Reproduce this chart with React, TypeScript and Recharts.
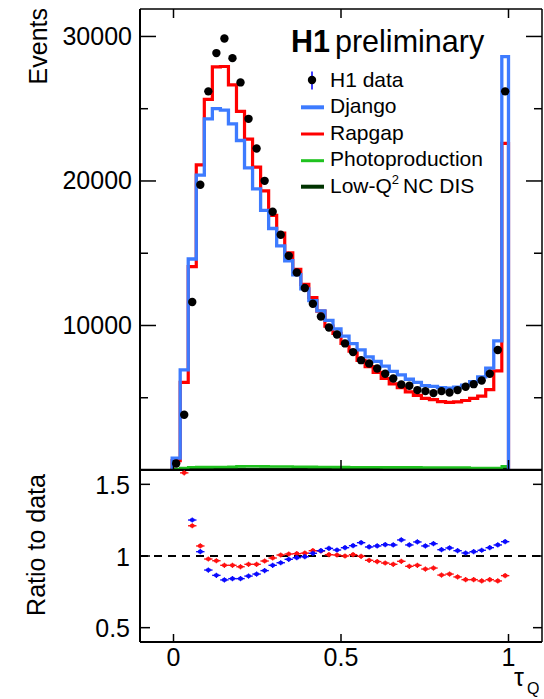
import React from 'react';
import { ComposedChart, Line, Scatter, XAxis, YAxis, ReferenceLine } from 'recharts';

const FONT = '"Liberation Sans", Arial, Helvetica, sans-serif';

// bin edges in tau_Q
const binEdges = [
  -0.004, 0.020, 0.044, 0.068, 0.092, 0.116, 0.140, 0.164, 0.188, 0.212, 0.236,
  0.260, 0.284, 0.308, 0.332, 0.356, 0.380, 0.404, 0.428, 0.452, 0.476, 0.500,
  0.524, 0.548, 0.572, 0.596, 0.620, 0.644, 0.668, 0.692, 0.716, 0.740, 0.764,
  0.788, 0.812, 0.836, 0.860, 0.884, 0.908, 0.932, 0.956, 0.980, 1.000,
];

const h1Data = [
  450, 3820, 11620, 19740, 26200, 28850, 29860, 28500, 26820, 24300, 22250,
  20010, 17870, 16280, 14820, 13670, 12590, 11500, 10620, 9860, 9380, 8760,
  8160, 7600, 7370, 7020, 6660, 6330, 5920, 5830, 5530, 5460, 5320, 5460,
  5360, 5530, 5760, 5940, 6190, 6660, 8300, 26200,
];

const django = [
  820, 6930, 14600, 20400, 24300, 25000, 24900, 23950, 22800, 20900, 19450,
  17970, 16710, 15510, 14480, 13510, 12530, 11720, 11010, 10350, 9770, 9270,
  8750, 8310, 7830, 7510, 7190, 6820, 6580, 6280, 6070, 5840, 5780, 5700,
  5660, 5730, 5880, 6120, 6440, 7050, 8940, 28600,
];

const rapgap = [
  650, 6060, 14070, 21120, 25650, 27900, 27920, 26650, 24810, 22890, 20960,
  19310, 17620, 16390, 15030, 13890, 12840, 11930, 10990, 9950, 9450, 8760,
  8230, 7580, 7150, 6750, 6330, 5960, 5700, 5410, 5170, 4960, 4870, 4730,
  4680, 4720, 4810, 4960, 5110, 5560, 6860, 22600,
];

const photoprod = [
  60, 140, 190, 200, 200, 210, 210, 215, 250, 260, 260,
  250, 240, 240, 240, 230, 220, 215, 210, 205, 200, 200,
  195, 195, 190, 190, 185, 185, 180, 180, 180, 175, 175, 170,
  170, 170, 170, 130, 130, 130, 140, 250,
];

const lowQ2 = [
  20, 40, 60, 70, 70, 70, 65, 60, 60, 55, 55,
  50, 50, 45, 45, 40, 40, 40, 35, 35, 35, 30,
  30, 30, 30, 30, 25, 25, 25, 25, 25, 25, 25, 25,
  25, 25, 25, 25, 25, 30, 40, 90,
];

const djangoRatio = [
  null, null, 1.251, 1.03, 0.902, 0.865, 0.833, 0.842, 0.842, 0.86, 0.874,
  0.898, 0.935, 0.953, 0.977, 0.988, 0.995, 1.019, 1.037, 1.053, 1.042, 1.058,
  1.072, 1.093, 1.063, 1.07, 1.079, 1.077, 1.112, 1.077, 1.098, 1.07, 1.086,
  1.044, 1.056, 1.037, 1.021, 1.03, 1.04, 1.058, 1.077, 1.1,
];

const rapgapRatio = [
  null, 1.58, 1.211, 1.07, 0.979, 0.967, 0.935, 0.935, 0.925, 0.942, 0.942,
  0.965, 0.986, 1.007, 1.014, 1.016, 1.02, 1.037, 1.035, 1.009, 1.007, 1.0,
  1.009, 0.998, 0.97, 0.961, 0.951, 0.942, 0.963, 0.928, 0.935, 0.909, 0.916,
  0.867, 0.874, 0.854, 0.835, 0.835, 0.826, 0.835, 0.826, 0.863,
];

const xTicks = [0, 0.5, 1];
const xTickLabels = ['0', '0.5', '1'];
const yTicksTop = [5000, 10000, 15000, 20000, 25000, 30000];
const yLabelsTop = [10000, 20000, 30000];
const yTicksRatio = [0.5, 1, 1.5];
const yLabelsRatio = ['0.5', '1', '1.5'];

const X_DOMAIN: [number, number] = [-0.1, 1.1];
const Y_TOP_DOMAIN: [number, number] = [0, 31900];
const Y_RATIO_DOMAIN: [number, number] = [0.4, 1.6];

// pixel -> data unit conversions (for tick lengths only)
const PLOT_W = 402;
const TOP_PLOT_H = 461;
const RATIO_PLOT_H = 172;
const xPx = (px: number) => (px * (X_DOMAIN[1] - X_DOMAIN[0])) / PLOT_W;
const yTopPx = (px: number) => (px * (Y_TOP_DOMAIN[1] - Y_TOP_DOMAIN[0])) / TOP_PLOT_H;
const yRatioPx = (px: number) => (px * (Y_RATIO_DOMAIN[1] - Y_RATIO_DOMAIN[0])) / RATIO_PLOT_H;

const COL_DJANGO = '#3d7bff';
const COL_RAPGAP = '#ff0000';
const COL_PHOTO = '#1fc21f';
const COL_LOWQ2 = '#003300';
const COL_RB = '#0a0aff';
const COL_RR = '#ff1010';

const centers = h1Data.map((_, i) => (binEdges[i] + binEdges[i + 1]) / 2);

function stepData(vals: number[]) {
  const pts: { x: number; y: number }[] = [{ x: binEdges[0], y: 0 }];
  vals.forEach((v, i) => pts.push({ x: binEdges[i], y: v }));
  pts.push({ x: binEdges[vals.length], y: vals[vals.length - 1] });
  pts.push({ x: binEdges[vals.length], y: 0 });
  return pts;
}

const dataPoints = h1Data.map((v, i) => ({ x: centers[i], y: v }));
const ratioPts = (arr: (number | null)[]) =>
  arr
    .map((v, i) => (v == null ? null : { x: centers[i], y: v }))
    .filter((p) => p != null) as { x: number; y: number }[];

// ---- tick label renderers ----
const TopLeftTick = (p: any) => {
  const { x, y, payload } = p;
  const v = payload.value;
  if (!yLabelsTop.includes(v)) return <g />;
  return (
    <text x={Number(x) - 8} y={Number(y) + 8.5} textAnchor="end" fontSize={25} fontFamily={FONT} fill="#000">
      {String(v)}
    </text>
  );
};
const RatioXTick = (p: any) => {
  const { x, y, payload } = p;
  const idx = xTicks.indexOf(payload.value);
  return (
    <text x={Number(x)} y={Number(y) + 23.5} textAnchor="middle" fontSize={25} fontFamily={FONT} fill="#000">
      {xTickLabels[idx]}
    </text>
  );
};
const RatioLeftTick = (p: any) => {
  const { x, y, payload } = p;
  const idx = yTicksRatio.indexOf(payload.value);
  return (
    <text x={Number(x) - 10} y={Number(y) + 9.5} textAnchor="end" fontSize={25} fontFamily={FONT} fill="#000">
      {yLabelsRatio[idx]}
    </text>
  );
};

const DataDot = (p: any) => <circle cx={p.cx} cy={p.cy} r={4.2} fill="#000" />;
const RatioMarker = (color: string) => (p: any) => (
  <g>
    <line x1={p.cx - 4.2} x2={p.cx + 4.2} y1={p.cy} y2={p.cy} stroke={color} strokeWidth={1.4} />
    <line x1={p.cx} x2={p.cx} y1={p.cy - 2.6} y2={p.cy + 2.6} stroke={color} strokeWidth={1.2} />
    <ellipse cx={p.cx} cy={p.cy} rx={2.6} ry={2.1} fill={color} />
  </g>
);

const seg = (x1: number, y1: number, x2: number, y2: number, w: number, key: string) => (
  <ReferenceLine
    key={key}
    xAxisId="b"
    yAxisId="l"
    segment={[{ x: x1, y: y1 }, { x: x2, y: y2 }]}
    stroke="#000"
    strokeWidth={w}
    ifOverflow="visible"
  />
);

function topFrame() {
  const [x0, x1] = X_DOMAIN;
  const [y0, y1] = Y_TOP_DOMAIN;
  const out: any[] = [];
  out.push(seg(x0, y1, x1, y1, 1.5, 'ft'));
  out.push(seg(x1, y0, x1, y1, 1.5, 'fr'));
  out.push(seg(x0, y0, x0, y1, 2, 'fl'));
  yTicksTop.forEach((v) => {
    const len = yLabelsTop.includes(v) ? 16 : 8;
    out.push(seg(x0, v, x0 + xPx(len), v, 1.5, 'tl' + v));
    out.push(seg(x1 - xPx(len), v, x1, v, 1.5, 'tr' + v));
  });
  xTicks.forEach((t) => {
    out.push(seg(t, y1, t, y1 - yTopPx(9), 1.5, 'tt' + t));
    out.push(seg(t, y0, t, y0 + yTopPx(10), 1.5, 'tb' + t));
  });
  return out;
}

function ratioFrame() {
  const [x0, x1] = X_DOMAIN;
  const [y0, y1] = Y_RATIO_DOMAIN;
  const out: any[] = [];
  out.push(seg(x0, y0, x1, y0, 2, 'fb'));
  out.push(seg(x1, y0, x1, y1, 1.5, 'fr'));
  out.push(seg(x0, y0, x0, y1, 2, 'fl'));
  yTicksRatio.forEach((v) => {
    out.push(seg(x0, v, x0 + xPx(10), v, 1.5, 'rl' + v));
    out.push(seg(x1 - xPx(9), v, x1, v, 1.5, 'rr' + v));
  });
  xTicks.forEach((t) => {
    out.push(seg(t, y0, t, y0 + yRatioPx(8), 1.5, 'rb' + t));
  });
  return out;
}

export default function App() {
  const [x0, x1] = X_DOMAIN;
  return (
    <div style={{ position: 'absolute', left: 0, top: 0, width: 544, height: 699, background: '#fff', overflow: 'hidden' }}>
      <div style={{ position: 'absolute', left: 0, top: 0 }}>
        <ComposedChart width={544} height={471} margin={{ top: 9, right: 2, bottom: 1, left: 0 }}>
          <XAxis xAxisId="b" dataKey="x" type="number" domain={X_DOMAIN} ticks={xTicks} height={0}
            tick={false} tickLine={false} axisLine={false} allowDataOverflow />
          <YAxis yAxisId="l" dataKey="y" type="number" domain={Y_TOP_DOMAIN} ticks={yTicksTop} width={140}
            tickSize={0} tickMargin={0} tickLine={false} tick={TopLeftTick}
            axisLine={false} allowDataOverflow />
          <Line xAxisId="b" yAxisId="l" data={stepData(lowQ2)} dataKey="y" type="stepAfter" stroke={COL_LOWQ2}
            strokeWidth={3} dot={false} isAnimationActive={false} />
          <Line xAxisId="b" yAxisId="l" data={stepData(photoprod)} dataKey="y" type="stepAfter" stroke={COL_PHOTO}
            strokeWidth={2.6} dot={false} isAnimationActive={false} />
          <Line xAxisId="b" yAxisId="l" data={stepData(rapgap)} dataKey="y" type="stepAfter" stroke={COL_RAPGAP}
            strokeWidth={3.2} dot={false} isAnimationActive={false} />
          <Line xAxisId="b" yAxisId="l" data={stepData(django)} dataKey="y" type="stepAfter" stroke={COL_DJANGO}
            strokeWidth={3.3} dot={false} isAnimationActive={false} />
          {seg(x0, 0, x1, 0, 2.6, 'fb')}
          {topFrame()}
          <Scatter xAxisId="b" yAxisId="l" data={dataPoints} dataKey="y" shape={DataDot} isAnimationActive={false} />
        </ComposedChart>
      </div>
      <div style={{ position: 'absolute', left: 0, top: 470 }}>
        <ComposedChart width={544} height={229} margin={{ top: 0, right: 2, bottom: 0, left: 0 }}>
          <XAxis xAxisId="b" dataKey="x" type="number" domain={X_DOMAIN} ticks={xTicks} height={57}
            tickSize={0} tickMargin={0} tickLine={false} tick={RatioXTick}
            axisLine={false} allowDataOverflow />
          <YAxis yAxisId="l" dataKey="y" type="number" domain={Y_RATIO_DOMAIN} ticks={yTicksRatio} width={140}
            tickSize={0} tickMargin={0} tickLine={false} tick={RatioLeftTick}
            axisLine={false} allowDataOverflow />
          <ReferenceLine xAxisId="b" yAxisId="l" y={1} stroke="#000" strokeWidth={2} strokeDasharray="8 6" />
          {ratioFrame()}
          <Scatter xAxisId="b" yAxisId="l" data={ratioPts(rapgapRatio)} dataKey="y" shape={RatioMarker(COL_RR)} isAnimationActive={false} />
          <Scatter xAxisId="b" yAxisId="l" data={ratioPts(djangoRatio)} dataKey="y" shape={RatioMarker(COL_RB)} isAnimationActive={false} />
        </ComposedChart>
      </div>
      <svg width={544} height={699} style={{ position: 'absolute', left: 0, top: 0, pointerEvents: 'none' }}>
        <text fontFamily={FONT} fontSize={30.5} x={291} y={52} fill="#000">
          <tspan fontWeight="bold">H1</tspan>
          <tspan dx={5}>preliminary</tspan>
        </text>
        <g fontFamily={FONT} fontSize={21} fill="#000">
          <line x1={312} x2={312} y1={71.5} y2={89.5} stroke="#0000ff" strokeWidth={1.5} />
          <circle cx={312} cy={80} r={4.2} fill="#000" />
          <text x={330} y={86.5}>H1 data</text>
          <line x1={301} x2={324} y1={107.3} y2={107.3} stroke={COL_DJANGO} strokeWidth={4} />
          <text x={330} y={113}>Django</text>
          <line x1={301} x2={324} y1={134} y2={134} stroke={COL_RAPGAP} strokeWidth={3} />
          <text x={330} y={139.5}>Rapgap</text>
          <line x1={301} x2={324} y1={160.7} y2={160.7} stroke={COL_PHOTO} strokeWidth={3} />
          <text x={330} y={166}>Photoproduction</text>
          <line x1={301} x2={324} y1={186.7} y2={186.7} stroke={COL_LOWQ2} strokeWidth={4} />
          <text x={330} y={192.5}>
            Low-Q<tspan fontSize={13} dy={-9}>2</tspan>
            <tspan dy={9} dx={4}>NC DIS</tspan>
          </text>
        </g>
        <text fontFamily={FONT} fontSize={25} fill="#000" textAnchor="end" transform="translate(47, 8) rotate(-90)">
          Events
        </text>
        <text fontFamily={FONT} fontSize={25} fill="#000" textAnchor="middle" transform="translate(45, 545) rotate(-90)">
          Ratio to data
        </text>
        <text fontFamily={FONT} fontSize={25} fill="#000" x={514} y={686}>
          τ
        </text>
        <text fontFamily={FONT} fontSize={16} fill="#000" x={527} y={694}>
          Q
        </text>
      </svg>
    </div>
  );
}
